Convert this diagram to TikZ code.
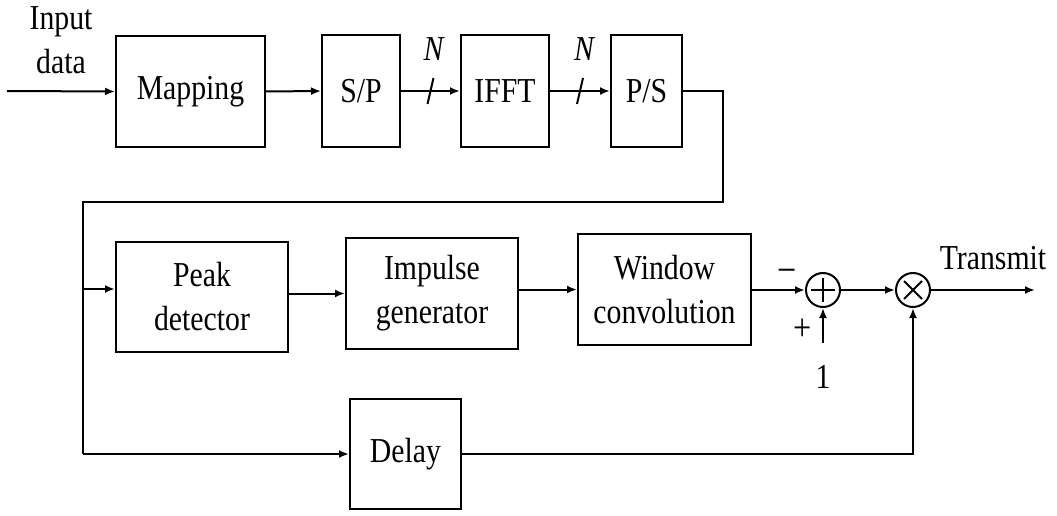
\documentclass[tikz,border=0pt]{standalone}
\usepackage{fontspec}
\setmainfont{Liberation Serif}[FakeStretch=0.85]
\usetikzlibrary{arrows.meta,calc}
\begin{document}
\begin{tikzpicture}[x=1pt,y=-1pt,
  font=\fontsize{35}{44}\selectfont,
  wire/.style={line width=2pt},
  arr/.style={wire,-{Latex[length=10pt,width=8pt]}},
  blk/.style={draw,line width=2pt,inner sep=0pt,align=center},
  junc/.style={draw,line width=2pt,circle,minimum size=34pt,inner sep=0pt},
  lbl/.style={inner sep=0pt,align=center}]
\useasboundingbox (0,0) rectangle (1057,516);

% transmitter chain
\node[blk,minimum width=149pt,minimum height=111pt] (map)  at (190.5,91.5) {Mapping};
\node[blk,minimum width=78pt, minimum height=112pt] (sp)   at (361,91)    {S/P};
\node[blk,minimum width=88pt, minimum height=112pt] (ifft) at (505,91)    {IFFT};
\node[blk,minimum width=71pt, minimum height=112pt] (ps)   at (646.5,91)  {P/S};

% peak cancellation chain
\node[blk,minimum width=172pt,minimum height=110pt] (peak)  at (202,297)   {Peak\\detector};
\node[blk,minimum width=172pt,minimum height=111pt] (imp)   at (432,293.5) {Impulse\\generator};
\node[blk,minimum width=173pt,minimum height=111pt] (win)   at (664.5,289.5) {Window\\convolution};
\node[blk,minimum width=111pt,minimum height=110pt] (delay) at (405.5,454) {Delay};

% summing and multiplying junctions
\node[junc,path picture={
  \draw[wire] ([yshift=-12pt]path picture bounding box.center) -- ([yshift=12pt]path picture bounding box.center);
  \draw[wire] ([xshift=-12pt]path picture bounding box.center) -- ([xshift=12pt]path picture bounding box.center);}]
  (sum) at (823,290) {};
\node[junc,path picture={
  \draw[wire] ([shift={(-9pt,-9pt)}]path picture bounding box.center) -- ([shift={(9pt,9pt)}]path picture bounding box.center);
  \draw[wire] ([shift={(-9pt,9pt)}]path picture bounding box.center) -- ([shift={(9pt,-9pt)}]path picture bounding box.center);}]
  (mul) at (913,290) {};

% routing points
\coordinate (in)  at (7,91);
\coordinate (c1)  at (723,202);
\coordinate (c2)  at (83,202);
\coordinate (bp)  at (83,289);
\coordinate (bd)  at (83,454);
\coordinate (one) at (823,343);
\coordinate (tx)  at (1035,290);

% labels
\node[lbl] (inlbl) at (61,40) {Input\\data};
\node[lbl] (txlbl) at (993,258) {Transmit};
\node[lbl,font=\fontsize{40}{44}\selectfont] (minus) at (787,276) {−};
\node[lbl,font=\fontsize{38}{44}\selectfont] (plus)  at (803,330) {+};
\node[lbl] (onel)  at (823,377) {1};

% connectors, top row
\draw[arr] (in) -- (map.west);
\draw[arr] (map.east) -- (sp.west);
\draw[arr] (sp.east) -- (ifft.west);
\draw[arr] (ifft.east) -- (ps.west);

% bus width marks
\coordinate (s1) at ($(sp.east)!0.5!(ifft.west)$);
\coordinate (s2) at ($(ifft.east)!0.5!(ps.west)$);
\draw[wire] (s1) ++(-3,13) -- ++(6,-26);
\draw[wire] (s2) ++(-3,13) -- ++(6,-26);
\node[lbl,font=\fontsize{35}{44}\selectfont\itshape] (n1) at ($(s1)+(3,-42)$) {N};
\node[lbl,font=\fontsize{35}{44}\selectfont\itshape] (n2) at ($(s2)+(4,-42)$) {N};

% feedback route from P/S down to the second row
\draw[wire] (ps.east) -| (c1) -- (c2) -- (bd);
\draw[arr] (bp) -- (bp -| peak.west);
\draw[arr] (bd) -- (delay.west);

% second row
\draw[arr] (imp.west -| peak.east) -- (imp.west);
\draw[arr] (win.west -| imp.east) -- (win.west);
\draw[arr] (win.east |- sum) -- (sum.west);
\draw[arr] (one) -- (sum.south);
\draw[arr] (sum.east) -- (mul.west);
\draw[arr] (mul.east) -- (tx);
\draw[arr] (delay.east) -| (mul.south);
\end{tikzpicture}
\end{document}
